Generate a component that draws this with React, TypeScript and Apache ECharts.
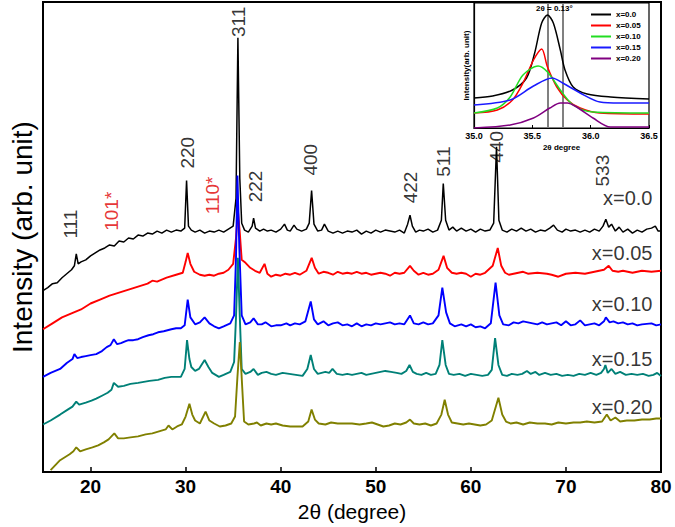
import React, { useEffect, useRef } from "react";
import * as echarts from "echarts";

// main XRD patterns: [2θ (deg), intensity (arb., offset)]
const xTicks = [20, 30, 40, 50, 60, 70, 80];

const s000: [number, number][] = [
  [15.0,183],[15.5,186],[16.0,190],[16.5,191],[17.0,196],[17.5,200],[18.0,204],[18.3,208],[18.5,220],[18.7,210],
  [19.0,212],[19.5,214],[20.0,218],[20.5,221],[21.0,224],[21.5,226],[22.0,229],[22.5,228],[23.0,233],[23.5,232],
  [24.0,236],[24.5,235],[25.0,239],[25.5,238],[26.0,241],[26.5,240],[27.0,243],[27.5,241],[28.0,244],[28.5,242],
  [29.0,244],[29.5,243],[29.9,246],[30.1,294],[30.3,248],[30.6,244],[31.0,242],[31.5,244],[32.0,241],[32.5,243],
  [33.0,242],[33.5,244],[34.0,242],[34.5,245],[35.0,248],[35.3,276],[35.5,438],[35.7,296],[35.9,251],[36.2,244],
  [36.6,242],[37.0,248],[37.15,256],[37.35,246],[37.8,243],[38.2,245],[38.6,243],[39.0,244],[39.5,242],[40.0,245],
  [40.4,250],[40.7,244],[41.0,243],[41.4,249],[41.7,245],[42.2,243],[42.7,245],[43.0,251],[43.25,284],[43.5,250],
  [43.9,243],[44.3,244],[44.6,250],[45.0,243],[45.5,241],[46.0,243],[46.5,241],[47.0,243],[47.5,242],[48.0,244],
  [48.5,240],[49.0,243],[49.5,241],[50.0,244],[50.5,242],[51.0,244],[51.5,243],[52.0,242],[52.5,244],[53.0,241],
  [53.35,250],[53.6,259],[53.85,248],[54.2,242],[54.6,244],[55.0,243],[55.5,245],[56.0,242],[56.5,244],[56.9,254],
  [57.1,291],[57.35,254],[57.7,244],[58.1,247],[58.5,243],[59.0,246],[59.5,243],[60.0,245],[60.5,242],[61.0,245],
  [61.5,243],[62.0,244],[62.4,251],[62.7,328],[62.95,254],[63.3,244],[63.8,242],[64.3,245],[64.8,243],[65.3,246],
  [65.8,243],[66.3,245],[66.8,242],[67.3,244],[67.8,243],[68.3,246],[68.7,249],[69.1,244],[69.6,242],[70.0,245],
  [70.5,243],[71.0,244],[71.5,242],[72.0,244],[72.5,242],[73.0,245],[73.5,243],[73.9,248],[74.2,255],[74.5,247],
  [74.8,250],[75.2,243],[75.6,247],[76.0,242],[76.5,245],[77.0,241],[77.5,244],[78.0,242],[78.5,245],[79.0,246],
  [79.4,248],[79.7,243],[80.0,243],
];

const s005: [number, number][] = [
  [15.0,144],[16.0,150],[17.0,156],[18.0,160],[19.0,164],[20.0,170],[21.0,174],[22.0,178],[23.0,181],[24.0,184],
  [25.0,187],[26.0,190],[26.5,193],[27.0,192],[28.0,196],[29.0,199],[29.7,201],[30.0,212],[30.22,221],[30.5,210],
  [30.9,202],[31.5,199],[32.0,198],[32.5,199],[33.0,198],[33.5,200],[34.0,201],[34.5,204],[35.0,210],[35.3,236],
  [35.5,264],[35.7,241],[35.9,214],[36.3,211],[36.8,206],[37.3,203],[37.8,201],[38.3,210],[38.6,200],[39.0,197],
  [39.5,199],[40.0,198],[40.5,200],[41.0,199],[41.5,201],[42.0,199],[42.7,203],[43.26,216],[43.6,206],[44.0,200],
  [44.5,202],[45.0,201],[45.5,199],[46.0,202],[46.5,200],[47.0,201],[47.5,200],[48.0,202],[48.5,200],[49.0,201],
  [49.5,199],[50.0,200],[50.5,201],[51.0,200],[51.5,198],[52.0,201],[52.5,200],[53.0,201],[53.6,208],[54.0,203],
  [54.5,199],[55.0,201],[55.5,199],[56.0,200],[56.6,204],[57.13,218],[57.5,206],[58.0,201],[58.5,200],[59.0,201],
  [59.5,200],[60.0,197],[60.5,200],[61.0,199],[61.5,201],[62.3,208],[62.83,226],[63.2,208],[63.6,201],[64.0,199],
  [65.0,201],[65.5,202],[66.0,200],[67.0,201],[68.0,200],[68.5,199],[69.2,197],[70.0,200],[71.0,201],[72.0,200],
  [73.0,202],[74.0,204],[74.5,208],[74.9,203],[75.5,202],[76.0,203],[77.0,201],[78.0,203],[79.0,202],[80.0,203],
];

const s010: [number, number][] = [
  [15.0,96],[15.8,100],[16.8,104],[17.5,110],[18.1,114],[18.3,119],[18.6,115],[19.0,116],[19.5,117],[20.0,118],
  [20.6,119],[21.2,122],[21.7,126],[22.1,128],[22.45,134],[22.8,129],[23.2,130],[23.7,132],[24.0,133],[24.5,133],
  [25.0,134],[25.5,136],[26.1,138],[26.6,139],[27.1,141],[27.7,142],[28.5,144],[29.0,145],[29.5,145],[29.9,148],
  [30.22,174],[30.5,156],[31.0,149],[31.5,151],[32.0,156],[32.5,150],[33.0,147],[33.5,145],[34.0,147],[34.7,150],
  [35.1,158],[35.3,216],[35.45,299],[35.65,226],[35.9,158],[36.3,149],[36.8,151],[37.15,155],[37.6,149],[38.0,149],
  [38.4,151],[39.0,147],[39.5,148],[40.0,148],[40.6,150],[41.0,148],[41.5,150],[42.0,149],[42.6,152],[43.16,172],
  [43.5,154],[43.9,149],[44.5,152],[45.0,148],[45.5,150],[46.0,151],[46.5,148],[47.0,149],[47.5,147],[48.0,150],
  [48.5,147],[49.0,149],[49.5,148],[50.0,150],[50.5,149],[51.0,150],[51.5,151],[52.0,149],[52.5,150],[53.0,149],
  [53.6,158],[54.0,150],[54.5,149],[55.0,151],[55.5,149],[56.0,150],[56.6,158],[57.0,186],[57.4,161],[57.8,150],
  [58.3,147],[59.0,149],[59.5,147],[60.0,149],[60.5,146],[61.0,147],[61.5,145],[62.1,150],[62.6,191],[63.0,158],
  [63.4,149],[64.0,148],[64.5,151],[65.0,150],[65.5,152],[66.0,151],[66.5,150],[67.0,149],[67.5,151],[68.0,149],
  [68.5,150],[69.0,151],[69.5,148],[70.0,152],[70.5,148],[71.0,149],[71.5,153],[72.0,148],[72.5,149],[73.0,150],
  [73.5,148],[74.0,152],[74.2,156],[74.6,151],[75.0,152],[75.5,150],[76.0,151],[76.5,149],[77.0,150],[77.5,148],
  [78.0,149],[79.0,150],[79.5,148],[80.0,149],
];

const s015: [number, number][] = [
  [15.0,48],[15.8,52],[16.8,58],[17.6,63],[18.1,66],[18.5,71],[18.8,68],[19.5,70],[20.1,72],[20.6,74],
  [21.2,77],[21.8,80],[22.2,83],[22.45,90],[22.9,86],[23.5,87],[24.2,89],[25.0,90],[25.6,91],[26.2,92],
  [27.1,93],[27.8,95],[28.5,96],[29.0,96],[29.5,96],[29.9,104],[30.15,133],[30.4,114],[30.6,106],[31.0,102],
  [31.4,104],[32.0,113],[32.4,106],[32.8,100],[33.5,96],[34.0,98],[34.7,101],[35.1,111],[35.3,156],[35.5,216],
  [35.7,156],[35.9,104],[36.3,99],[36.8,101],[37.15,104],[37.6,98],[38.0,100],[38.5,101],[39.0,99],[39.5,98],
  [40.2,100],[40.9,99],[41.6,98],[42.3,97],[42.8,104],[43.16,118],[43.5,104],[43.9,99],[44.3,100],[44.7,101],
  [45.1,100],[45.45,104],[45.9,99],[46.5,98],[47.0,99],[47.5,98],[48.0,99],[48.5,100],[49.0,98],[49.5,99],
  [50.0,100],[50.5,101],[51.0,102],[51.6,101],[52.2,100],[52.7,99],[53.2,102],[53.55,108],[53.9,101],[54.3,99],
  [54.8,98],[55.3,100],[55.8,98],[56.3,99],[56.7,108],[57.0,133],[57.35,108],[57.7,99],[58.2,98],[58.8,99],
  [59.4,97],[60.0,99],[60.6,98],[61.2,97],[61.8,98],[62.2,103],[62.55,135],[62.9,108],[63.3,98],[63.8,97],
  [64.3,99],[64.9,98],[65.4,99],[65.9,102],[66.3,99],[66.8,101],[67.2,98],[67.8,100],[68.4,98],[69.0,99],
  [69.6,97],[70.2,98],[70.8,97],[71.4,99],[72.0,98],[72.6,100],[73.2,98],[73.7,100],[74.0,104],[74.15,108],
  [74.4,100],[74.8,104],[75.2,99],[75.7,101],[76.3,98],[76.9,99],[77.5,98],[78.1,99],[78.7,97],[79.2,98],
  [79.6,100],[80.0,97],
];

const s020: [number, number][] = [
  [15.8,2],[16.3,7],[16.8,12],[17.3,15],[17.8,18],[18.2,21],[18.5,25],[18.9,21],[19.5,23],[20.2,25],
  [20.8,27],[21.4,30],[21.9,33],[22.2,36],[22.5,39],[22.9,34],[23.5,34],[24.2,35],[25.0,36],[25.8,38],
  [26.5,39],[27.2,41],[27.9,43],[28.2,47],[28.6,43],[29.1,46],[29.6,48],[30.0,56],[30.4,69],[30.7,58],
  [31.0,52],[31.5,49],[32.1,61],[32.5,52],[33.0,49],[33.6,46],[34.2,47],[34.8,49],[35.2,56],[35.45,96],
  [35.7,131],[35.95,86],[36.15,51],[36.6,48],[37.2,49],[37.5,50],[37.9,47],[38.5,49],[39.0,48],[39.5,49],
  [40.2,47],[41.0,46],[41.7,46],[42.3,46],[42.9,51],[43.25,63],[43.6,53],[44.0,49],[44.7,48],[45.3,50],
  [46.0,49],[46.8,49],[47.5,49],[48.3,48],[49.0,49],[49.6,50],[50.2,48],[50.8,46],[51.4,47],[52.0,49],
  [52.6,48],[53.2,50],[53.6,53],[54.0,49],[54.6,48],[55.2,49],[55.8,47],[56.4,49],[56.9,58],[57.25,73],
  [57.6,58],[58.0,50],[58.6,49],[59.2,48],[59.8,49],[60.4,48],[61.0,47],[61.6,48],[62.2,52],[62.9,75],
  [63.3,58],[63.7,51],[64.2,49],[64.8,50],[65.5,48],[66.2,50],[67.0,49],[67.8,49],[68.5,48],[69.2,50],
  [70.0,49],[70.8,50],[71.5,50],[72.2,51],[73.0,50],[73.8,51],[74.3,58],[74.7,52],[75.2,55],[75.7,51],
  [76.4,52],[77.2,52],[78.0,53],[78.8,53],[79.5,54],[80.0,54],
];

const mainNames = ["x=0.0", "x=0.05", "x=0.10", "x=0.15", "x=0.20"];
const mainColors = ["#000000", "#ff0000", "#0000ff", "#008077", "#808000"];

// peak annotations [2θ, intensity position]
const peakText = ["111", "101*", "220", "110*", "311", "222", "400", "422", "511", "440", "533"];
const peakX = [17.9, 22.25, 30.22, 32.8, 35.6, 37.36, 43.16, 53.61, 57.13, 62.72, 73.8];
const peakY = [250, 263, 322, 279, 454, 288, 315, 287, 313, 328, 304];
const peakRed = [false, true, false, true, false, false, false, false, false, false, false];

const sampleLabelX = 79.1;
const sampleLabelY = [276, 221, 169, 114, 66];

// inset: 311 peak, [2θ, intensity]
const i000: [number, number][] = [[35.0,30],[35.16,32],[35.33,38],[35.45,50],[35.52,75],[35.58,105],[35.63,113],[35.68,105],[35.74,78],[35.78,58],[35.85,41],[35.97,34],[36.17,31],[36.5,29]];
const i005: [number, number][] = [[35.0,15],[35.2,18],[35.33,28],[35.42,45],[35.51,68],[35.58,79],[35.63,61],[35.71,41],[35.8,28],[35.91,20],[36.08,15],[36.5,14]];
const i010: [number, number][] = [[35.0,15],[35.2,20],[35.31,31],[35.42,53],[35.55,62],[35.63,56],[35.74,38],[35.85,23],[36.02,16],[36.5,15]];
const i015: [number, number][] = [[35.0,23],[35.31,28],[35.51,42],[35.67,50],[35.76,45],[35.91,35],[36.08,26],[36.25,25],[36.5,25]];
const i020: [number, number][] = [[35.0,0],[35.31,3],[35.51,10],[35.65,20],[35.74,25],[35.8,25],[35.88,21],[36.02,10],[36.17,1],[36.5,1]];
const insetColors = ["#000000", "#ff0000", "#22dd22", "#1a1aff", "#800080"];
const insetLines = [35.63, 35.76];

export default function App() {
  const ref = useRef<HTMLDivElement>(null);
  useEffect(() => {
    const chart = echarts.init(ref.current!, null, { renderer: "svg" });
    const font = '"Liberation Sans", Arial, sans-serif';
    const mainData = [s000, s005, s010, s015, s020];
    const insetData = [i000, i005, i010, i015, i020];

    const series: any[] = [];
    mainData.forEach((d, i) => {
      series.push({
        type: "line",
        name: "main " + mainNames[i],
        xAxisIndex: 0,
        yAxisIndex: 0,
        data: d,
        symbol: "none",
        lineStyle: { color: mainColors[i], width: i === 0 ? 1.5 : 1.9 },
        itemStyle: { color: mainColors[i] },
        silent: true,
      });
    });
    series.push({
      type: "scatter",
      name: "peaks",
      xAxisIndex: 0,
      yAxisIndex: 0,
      symbolSize: 0,
      silent: true,
      z: 4,
      data: peakText.map((t, i) => ({
        value: [peakX[i], peakY[i]],
        label: { formatter: t, color: peakRed[i] ? "#e00000" : "#000" },
      })),
      label: { show: true, position: "inside", rotate: 90, fontSize: 19, fontFamily: font },
    });
    series.push({
      type: "scatter",
      name: "samples",
      xAxisIndex: 0,
      yAxisIndex: 0,
      symbolSize: 0,
      silent: true,
      z: 4,
      data: mainNames.map((t, i) => ({ value: [sampleLabelX, sampleLabelY[i]], label: { formatter: t } })),
      label: { show: true, position: "left", distance: 0, fontSize: 20, color: "#000", fontFamily: font },
    });
    insetData.forEach((d, i) => {
      series.push({
        type: "line",
        name: mainNames[i],
        xAxisIndex: 1,
        yAxisIndex: 1,
        data: d,
        symbol: "none",
        smooth: 0.3,
        lineStyle: { color: insetColors[i], width: 1.5 },
        itemStyle: { color: insetColors[i] },
        silent: true,
        z: 6,
        markLine: i === 0 ? {
          symbol: "none",
          silent: true,
          label: { show: false },
          lineStyle: { color: "#808080", width: 2, type: "solid" },
          data: insetLines.map((v) => ({ xAxis: v })),
        } : undefined,
      });
    });

    chart.setOption({
      animation: false,
      backgroundColor: "#fff",
      textStyle: { fontFamily: font },
      grid: [
        { left: 33, top: 2, width: 628, height: 474, show: true, borderColor: "#000", borderWidth: 2, backgroundColor: "#fff" },
        { left: 474, top: 3, width: 175, height: 125, show: true, borderColor: "#000", borderWidth: 1.2, backgroundColor: "#fff", z: 5 },
      ],
      xAxis: [
        {
          gridIndex: 0, type: "value", min: 15, max: 80,
          axisLine: { show: true, lineStyle: { color: "#000", width: 2 } },
          axisTick: { show: true, inside: true, length: 5, customValues: xTicks, lineStyle: { color: "#000", width: 1.5 } },
          axisLabel: { customValues: xTicks, fontSize: 19, fontWeight: "bold", color: "#000", margin: 5, fontFamily: font },
          splitLine: { show: false },
          name: "2θ (degree)", nameLocation: "middle", nameGap: 28,
          nameTextStyle: { fontSize: 21, color: "#000", fontFamily: font },
        },
        {
          gridIndex: 1, type: "value", min: 35, max: 36.5, interval: 0.5, z: 6,
          axisLine: { show: true, lineStyle: { color: "#000", width: 1.2 } },
          axisTick: { show: true, inside: true, length: 3, lineStyle: { color: "#000" } },
          axisLabel: { fontSize: 9, fontWeight: "bold", color: "#000", margin: 3, formatter: (v: number) => v.toFixed(1), fontFamily: font },
          splitLine: { show: false },
          name: "2θ degree", nameLocation: "middle", nameGap: 15,
          nameTextStyle: { fontSize: 8, fontWeight: "bold", color: "#000", fontFamily: font },
        },
      ],
      yAxis: [
        {
          gridIndex: 0, type: "value", min: 0, max: 474,
          axisLine: { show: true, lineStyle: { color: "#000", width: 2 } },
          axisTick: { show: false }, axisLabel: { show: false }, splitLine: { show: false },
          name: "Intensity (arb. unit)", nameLocation: "middle", nameGap: 7, nameRotate: 90,
          nameTextStyle: { fontSize: 28, color: "#000", fontFamily: font },
        },
        {
          gridIndex: 1, type: "value", min: 0, max: 125, z: 6,
          axisLine: { show: true, lineStyle: { color: "#000", width: 1.2 } },
          axisTick: { show: false }, axisLabel: { show: false }, splitLine: { show: false },
          name: "Intensity(arb. unit)", nameLocation: "middle", nameGap: 4, nameRotate: 90,
          nameTextStyle: { fontSize: 8, fontWeight: "bold", color: "#000", fontFamily: font },
        },
      ],
      legend: {
        data: mainNames,
        orient: "vertical",
        left: 586,
        top: 5,
        icon: "rect",
        itemWidth: 20,
        itemHeight: 2,
        itemGap: 2,
        z: 8,
        textStyle: { fontSize: 8, fontWeight: "bold", color: "#000", fontFamily: font, lineHeight: 9 },
      },
      graphic: [
        {
          type: "text", left: 536, top: 4, z: 10,
          style: { text: "2θ = 0.13°", fontSize: 8, fontWeight: "bold", fill: "#000", fontFamily: font },
        },
      ],
      series,
    });
    return () => chart.dispose();
  }, []);
  return (
    <div
      ref={ref}
      style={{ position: "fixed", left: 0, top: 0, width: 675, height: 527, background: "#fff" }}
    />
  );
}
